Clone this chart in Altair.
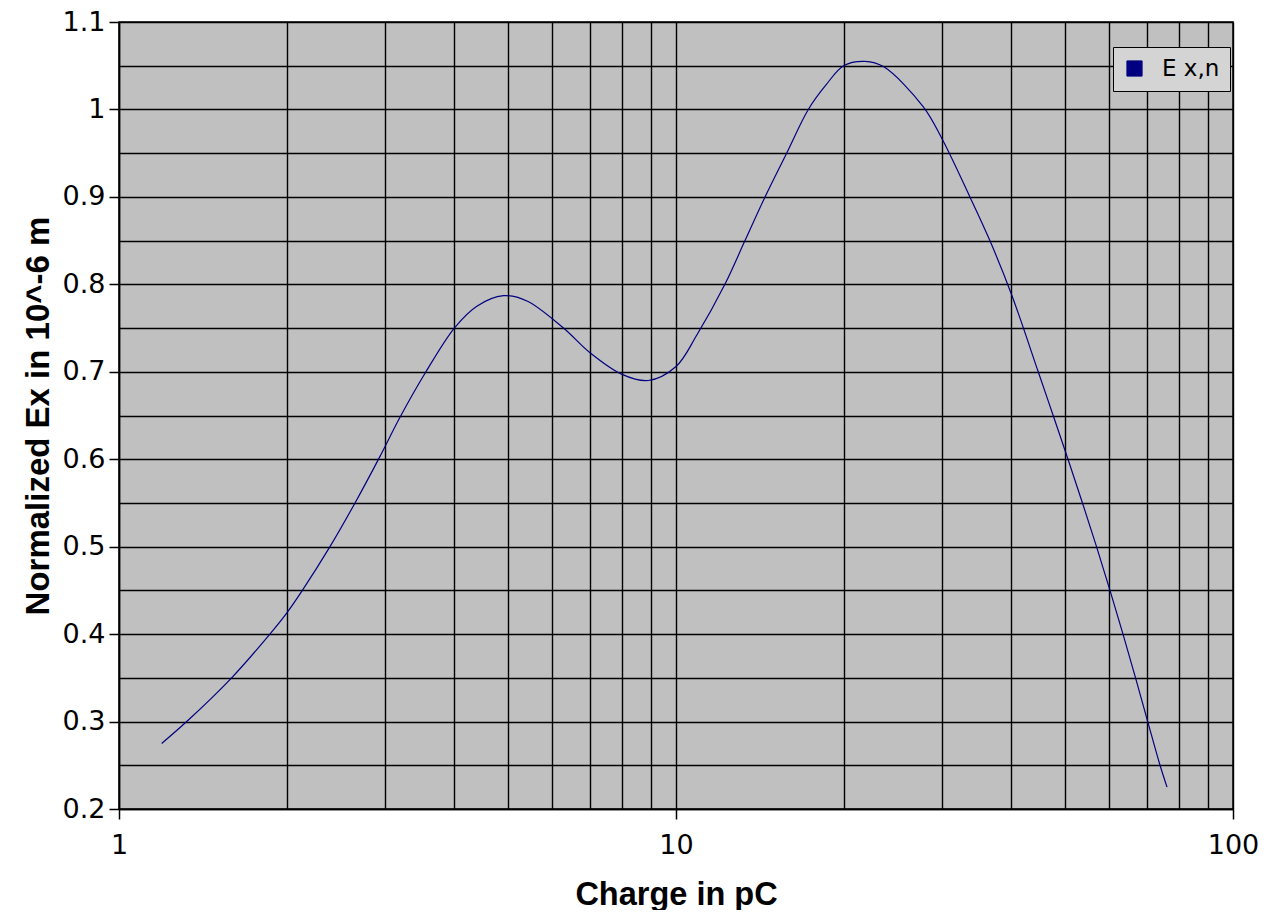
import altair as alt
import pandas as pd

charge_pc = [1.193, 1.323, 1.593, 1.866, 2.0, 2.134, 2.392, 2.653, 2.94, 3.195,
             3.557, 4.0, 4.39, 4.90, 5.40, 6.28, 7.0, 8.0, 8.92, 10.0,
             10.9, 12.24, 13.3, 14.45, 15.8, 17.28, 18.59, 20.0, 21.85, 23.57, 27.8,
             30.0, 33.7, 36.6, 40.0, 44.7, 47.55, 50.56, 53.67, 56.88, 60.14,
             63.46, 66.84, 70.29, 73.96, 76.13]
ex_norm = [0.275, 0.300, 0.350, 0.400, 0.424, 0.450, 0.500, 0.550, 0.603, 0.648,
           0.700, 0.750, 0.775, 0.787, 0.781, 0.750, 0.722, 0.697, 0.690, 0.706,
           0.742, 0.800, 0.850, 0.900, 0.950, 1.000, 1.028, 1.050, 1.055, 1.049, 1.003,
           0.967, 0.900, 0.850, 0.789, 0.700, 0.650, 0.600, 0.550, 0.500, 0.450,
           0.400, 0.350, 0.300, 0.250, 0.225]
series_name = "E x,n"

x_grid_values = [1, 2, 3, 4, 5, 6, 7, 8, 9, 10, 20, 30, 40, 50, 60, 70, 80, 90, 100]
y_grid_values = [0.2, 0.25, 0.3, 0.35, 0.4, 0.45, 0.5, 0.55, 0.6, 0.65, 0.7,
                 0.75, 0.8, 0.85, 0.9, 0.95, 1.0, 1.05, 1.1]

df = pd.DataFrame({"charge": charge_pc, "ex": ex_norm, "series": series_name})

x_major = "indexof([1, 10, 100], datum.value) >= 0"
y_major = "abs(datum.value * 10 - round(datum.value * 10)) < 0.001"

chart = alt.Chart(df).mark_line(strokeWidth=1.2, interpolate="catmull-rom").encode(
    x=alt.X("charge:Q",
            scale=alt.Scale(type="log", domain=[1, 100], nice=False),
            axis=alt.Axis(title="Charge in pC", values=x_grid_values,
                          labelExpr=f"{x_major} ? format(datum.value, '~g') : ''",
                          tickOpacity={"condition": {"test": x_major, "value": 1}, "value": 0},
                          labelFlush=False,
                          labelPadding=13, titlePadding=20, titleFontSize=32.5)),
    y=alt.Y("ex:Q",
            scale=alt.Scale(domain=[0.2, 1.1], nice=False, zero=False),
            axis=alt.Axis(title="Normalized Ex in 10^-6 m", values=y_grid_values,
                          labelExpr=f"{y_major} ? format(datum.value, '~g') : ''",
                          tickOpacity={"condition": {"test": y_major, "value": 1}, "value": 0},
                          labelFlush=False,
                          labelPadding=4, titlePadding=7, titleFontSize=33)),
    color=alt.Color("series:N",
                    scale=alt.Scale(domain=[series_name], range=["#000080"]),
                    legend=alt.Legend(title=None, orient="none", legendX=994, legendY=25,
                                      symbolType="square", symbolFillColor="#000080",
                                      symbolStrokeColor="#000080", symbolSize=230,
                                      symbolStrokeWidth=1,
                                      labelFontSize=23, labelFont="DejaVu Sans",
                                      labelColor="#000000", labelOffset=16,
                                      fillColor="#d4d4d4", strokeColor="#000000",
                                      padding=10)),
).properties(
    width=1114, height=787,
    autosize=alt.AutoSizeParams(type="none"),
    padding={"left": 111, "top": 14, "right": 35, "bottom": 101},
    background="#ffffff",
).configure_view(
    fill="#c0c0c0", stroke="#000000", strokeWidth=1.5
).configure_axis(
    grid=True, gridColor="#000000", gridWidth=1.4, gridOpacity=1,
    domainColor="#000000", domainWidth=1.5,
    tickColor="#000000", tickSize=10, tickWidth=1.5,
    labelFont="DejaVu Sans", labelFontSize=27, labelColor="#000000",
    titleFont="Liberation Sans", titleFontWeight="bold",
    titleColor="#000000",
)

chart.save("out.html", embed_options={"renderer": "svg", "actions": False})
